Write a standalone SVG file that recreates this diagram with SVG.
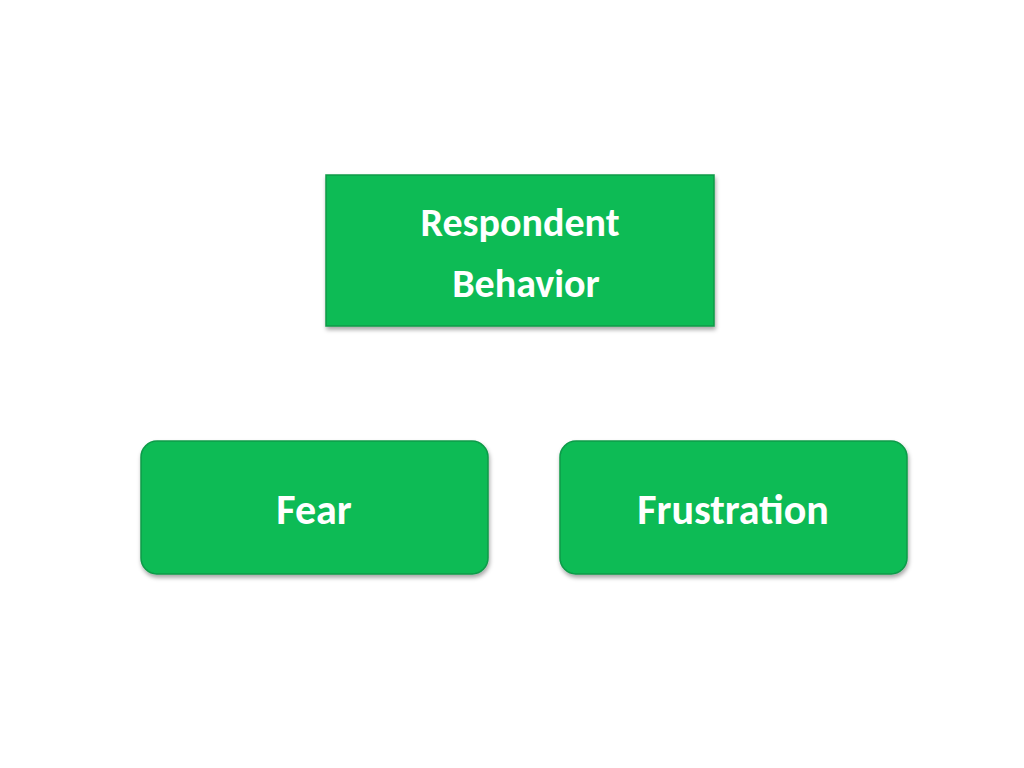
<svg xmlns="http://www.w3.org/2000/svg" width="1024" height="768" viewBox="0 0 1024 768">
<defs>
<filter id="sh" x="-10%" y="-10%" width="120%" height="130%"><feDropShadow dx="1" dy="3" stdDeviation="2" flood-color="#000" flood-opacity="0.35"/></filter>
<style>.b{fill:#07bb55;stroke:#0a9a48;stroke-width:1.5;filter:url(#sh)}.t{font-family:Calibri,Carlito,"Liberation Sans",sans-serif;font-weight:bold;fill:#fff;text-anchor:middle}</style>
</defs>
<rect width="1024" height="768" fill="#fff"/>
<g id="connectors"/>
<g id="respondent"><rect class="b" x="326" y="175" width="388" height="151"/>
<text class="t" x="520" y="236" font-size="40">Respondent</text><text class="t" x="526" y="297" font-size="40">Behavior</text></g>
<g id="fear"><rect class="b" x="141" y="441" width="347" height="133" rx="16"/>
<text class="t" x="314" y="524" font-size="42">Fear</text></g>
<g id="frustration"><rect class="b" x="560" y="441" width="347" height="133" rx="16"/>
<text class="t" x="733" y="524" font-size="42">Frustration</text></g>
</svg>
